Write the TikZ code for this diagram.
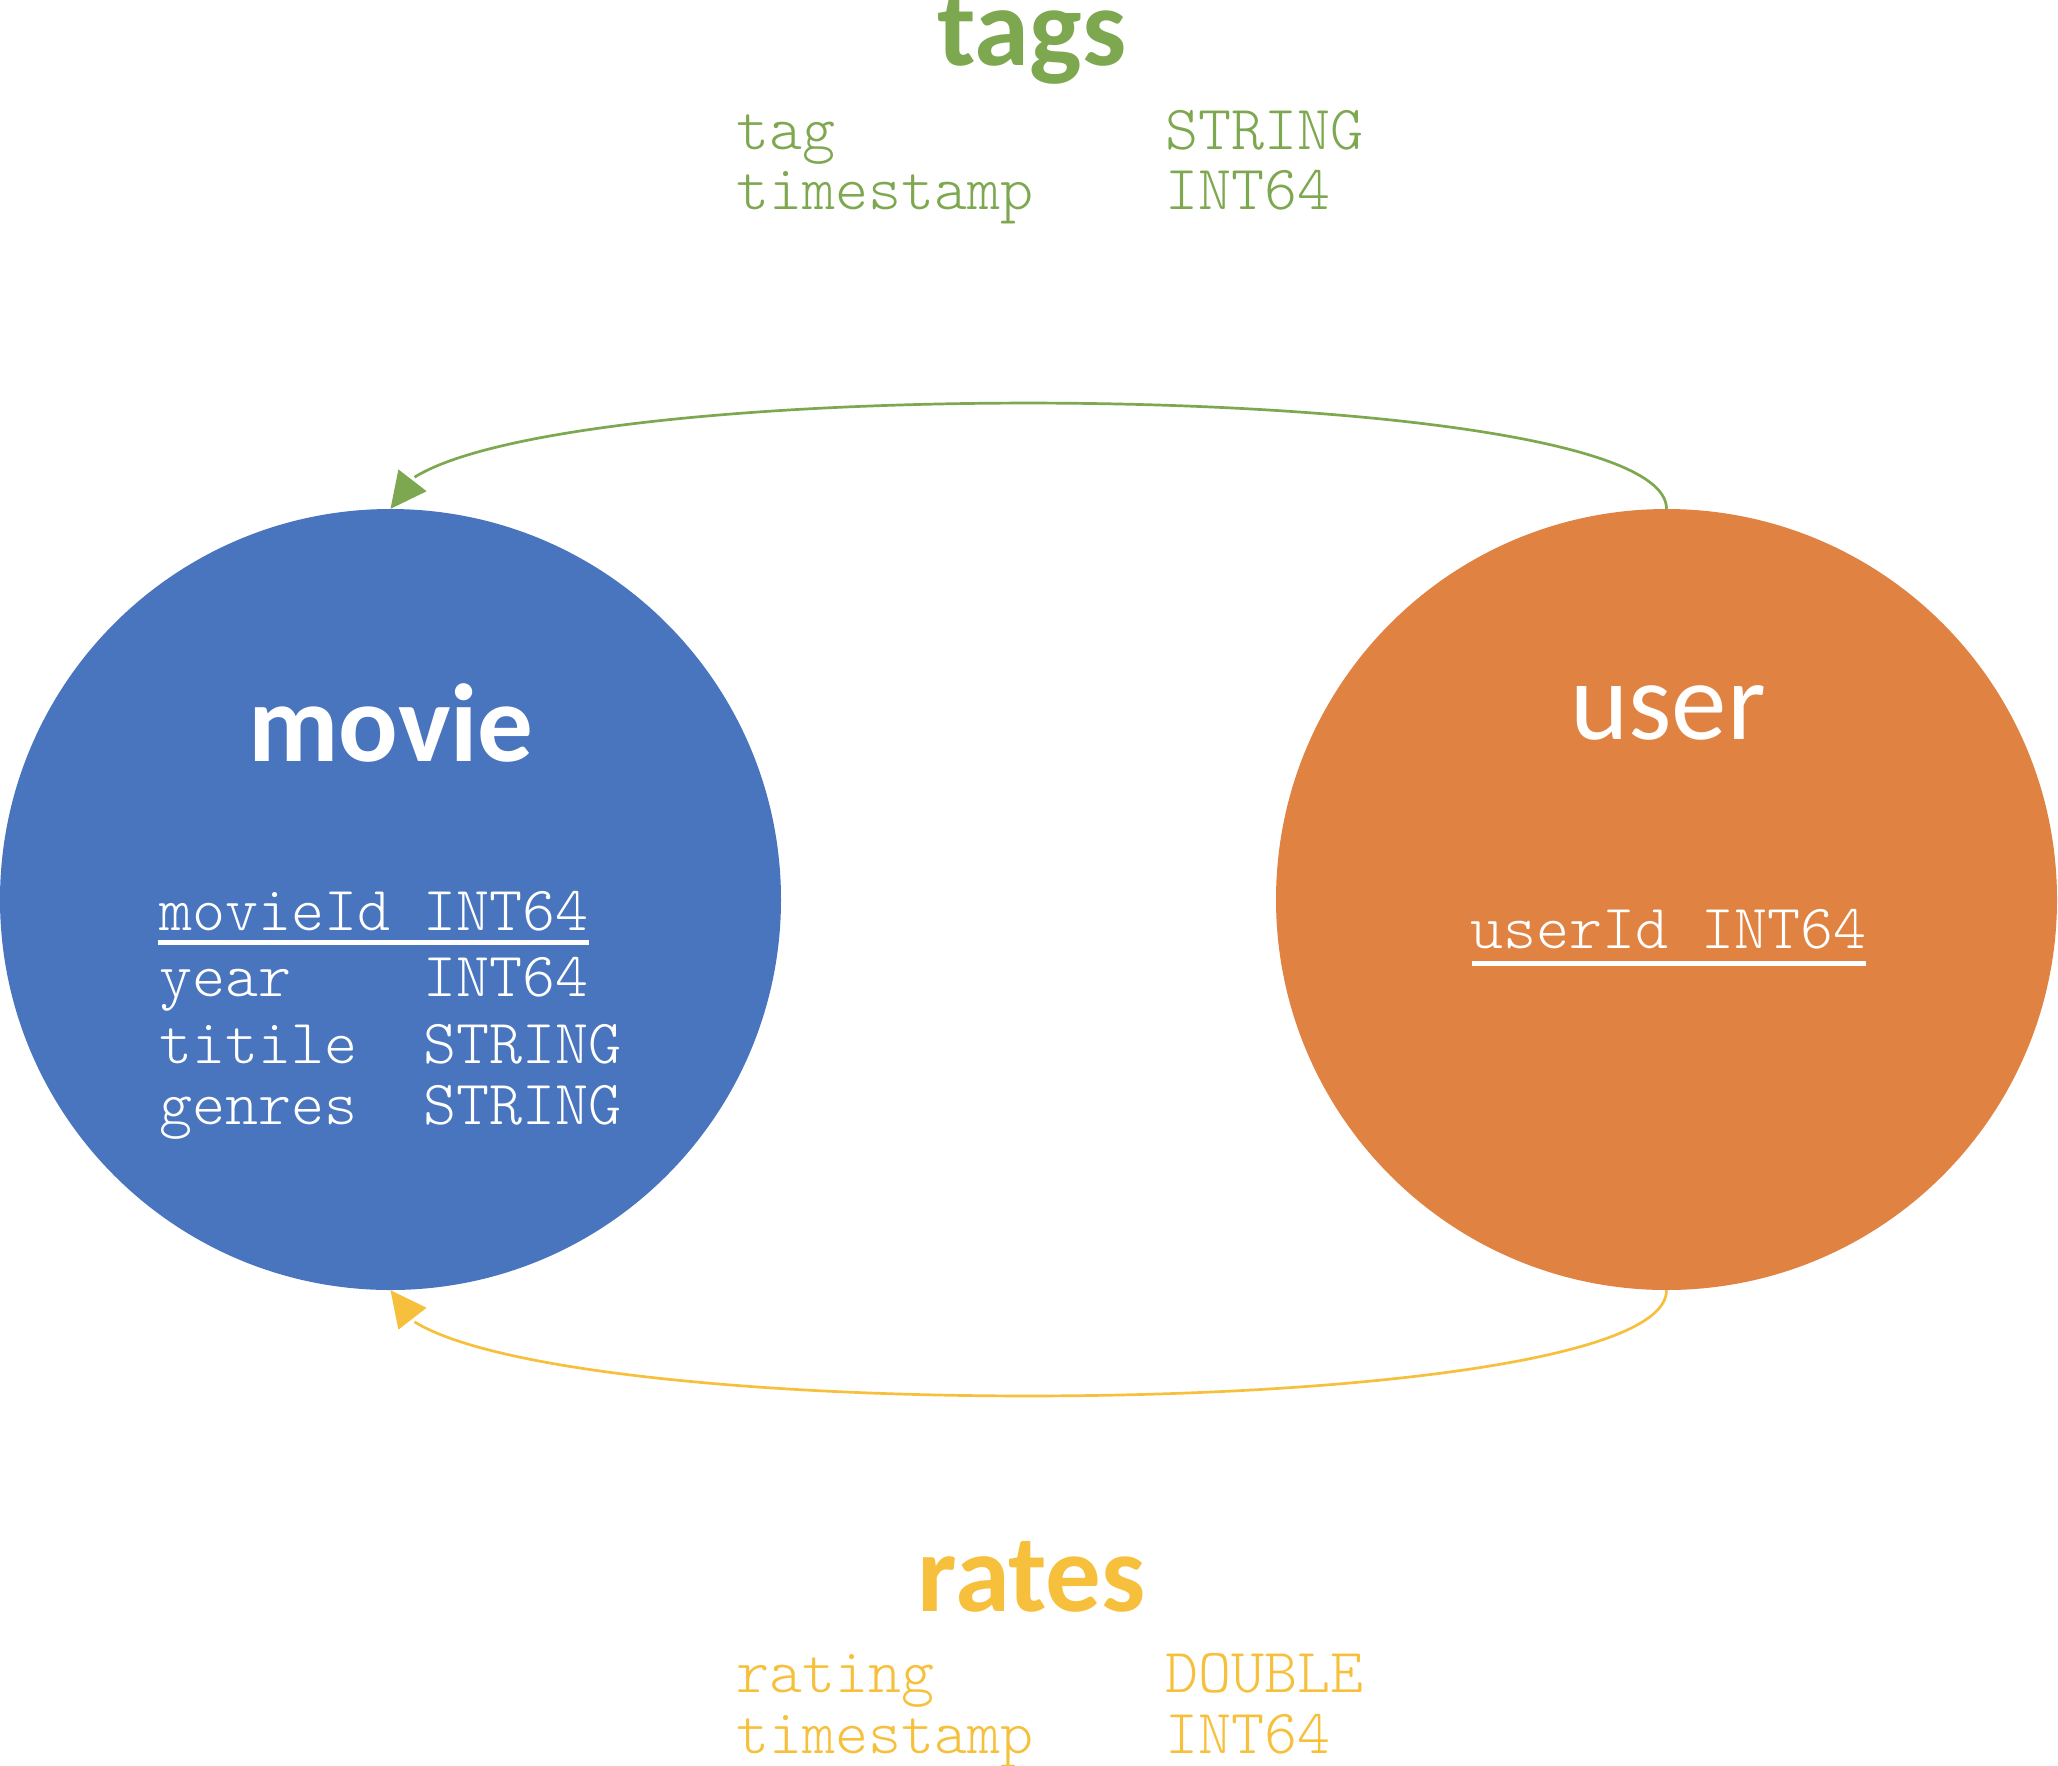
\documentclass[tikz,border=0pt]{standalone}
\usepackage{fontspec}
\setmainfont{Carlito}
\newfontfamily\monofnt{lmmonolt10-regular.otf}
\usetikzlibrary{arrows.meta,bending}
\definecolor{cblue}{RGB}{73,116,190}
\definecolor{corange}{RGB}{224,131,66}
\definecolor{cgreen}{RGB}{125,168,80}
\definecolor{cyellow}{RGB}{246,192,60}
\begin{document}
\begin{tikzpicture}[x=1pt,y=-1pt,
  entity/.style={circle,inner sep=0pt,minimum size=781pt,draw=none},
  titlebold/.style={font=\fontsize{111}{120}\selectfont\bfseries,inner sep=0pt,anchor=base},
  titleplain/.style={font=\fontsize{111}{120}\selectfont,inner sep=0pt,anchor=base},
  field/.style={font=\fontsize{62.9}{66}\selectfont\monofnt,inner sep=0pt,anchor=base west},
  keyline/.style={white,line width=5pt},
  rel/.style={line width=2.7pt,-{Triangle[length=36pt,width=35pt,flex]}}]
\useasboundingbox (0,0) rectangle (2058,1765);

% entities
\node[entity,fill=cblue] (movie) at (390.5,899.5) {};
\node[entity,fill=corange] (user) at (1666.5,899.5) {};

% tags relation
\node[titlebold,text=cgreen] (tagsT) at (1032,65) {tags};
\node[field,text=cgreen] (tagsA) at (736,149) {tag~~~~~~~~~~STRING};
\node[field,text=cgreen] (tagsB) at (736,209) {timestamp~~~~INT64};

% movie
\node[titlebold,text=white] (movieT) at (391,761) {movie};
\node[field,text=white] (mid) at (159,930) {movieId~INT64};
\node[field,text=white] (myear) at (159,996) {year~~~~INT64};
\node[field,text=white] (mtitle) at (159,1063) {titile~~STRING};
\node[field,text=white] (mgenres) at (159,1124) {genres~~STRING};
\draw[keyline] ([xshift=-1pt,yshift=-12.5pt]mid.base west) -- ([xshift=0pt,yshift=-12.5pt]mid.base east);

% user
\node[titleplain,text=white] (userT) at (1668,739) {user};
\node[field,text=white] (uid) at (1470,948) {userId~INT64};
\draw[keyline] ([xshift=2pt,yshift=-15.5pt]uid.base west) -- ([xshift=-1pt,yshift=-15.5pt]uid.base east);

% rates relation
\node[titlebold,text=cyellow] (ratesT) at (1032,1611) {rates};
\node[field,text=cyellow] (ratesA) at (736,1692) {rating~~~~~~~DOUBLE};
\node[field,text=cyellow] (ratesB) at (736,1753) {timestamp~~~~INT64};

% connectors
\draw[rel,cgreen] (user.north) .. controls +(0,-141) and +(0,-141) .. (movie.north);
\draw[rel,cyellow] (user.south) .. controls +(0,141) and +(0,141) .. (movie.south);
\end{tikzpicture}
\end{document}
